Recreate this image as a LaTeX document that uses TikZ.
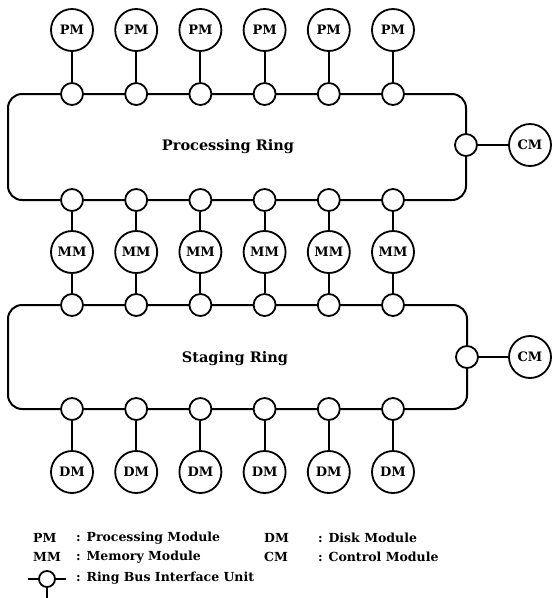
\documentclass[tikz,border=0pt]{standalone}
\usepackage{fontspec}
\setmainfont{DejaVu Serif}
\begin{document}
\begin{tikzpicture}[x=1pt,y=-1pt,
  module/.style={circle,draw,line width=1.8pt,fill=white,minimum size=42pt,inner sep=0pt,font=\bfseries\fontsize{13}{15}\selectfont},
  rbiu/.style={circle,draw,line width=1.8pt,fill=white,minimum size=22pt,inner sep=0pt},
  ringline/.style={line width=2pt,rounded corners=14pt},
  link/.style={line width=1.9pt},
  ringlabel/.style={font=\bfseries\fontsize{14.5}{17}\selectfont},
  legtext/.style={anchor=west,inner sep=0pt,font=\bfseries\fontsize{12.5}{14}\selectfont}]
\useasboundingbox (0,0) rectangle (552,598);
% rings
\draw[ringline] (8,94) rectangle (466,200);
\draw[ringline] (8,305) rectangle (467,409);
\node[ringlabel] (pr) at (228,147) {Processing Ring};
\node[ringlabel] (sr) at (235,359) {Staging Ring};
% columns
\foreach \i in {1,...,6}{
  \pgfmathsetmacro{\xx}{72+64.2*(\i-1)}
  \node[rbiu] (pt\i) at (\xx,94) {};
  \node[rbiu] (pb\i) at (\xx,200) {};
  \node[rbiu] (st\i) at (\xx,305) {};
  \node[rbiu] (sb\i) at (\xx,409) {};
  \node[module] (pm\i) at (\xx,30) {PM};
  \node[module] (mm\i) at (\xx,252) {MM};
  \node[module] (dm\i) at (\xx,472) {DM};
  \draw[link] (pm\i) -- (pt\i);
  \draw[link] (pb\i) -- (mm\i);
  \draw[link] (mm\i) -- (st\i);
  \draw[link] (sb\i) -- (dm\i);
}
% control modules
\node[rbiu] (pc) at (466,145) {};
\node[module] (cm1) at (530,145) {CM};
\draw[link] (pc) -- (cm1);
\node[rbiu] (sc) at (467,357) {};
\node[module] (cm2) at (530,357) {CM};
\draw[link] (sc) -- (cm2);
% legend
\node[legtext] (l1a) at (33,538) {PM};
\node[legtext] (l1b) at (76,538) {: Processing Module};
\node[legtext] (l1c) at (264,538) {DM};
\node[legtext] (l1d) at (318,538) {: Disk Module};
\node[legtext] (l2a) at (33,557) {MM};
\node[legtext] (l2b) at (76,557) {: Memory Module};
\node[legtext] (l2c) at (264,557) {CM};
\node[legtext] (l2d) at (318,557) {: Control Module};
\coordinate (sl) at (28,579);
\coordinate (sr2) at (66,579);
\coordinate (sd) at (47,598);
\draw[link] (sl) -- (sr2);
\node[circle,draw,line width=1.8pt,fill=white,minimum size=16pt,inner sep=0pt] (lsym) at (47,579) {};
\draw[link] (lsym) -- (sd);
\node[legtext] (l3) at (76,578) {: Ring Bus Interface Unit};
\end{tikzpicture}
\end{document}
